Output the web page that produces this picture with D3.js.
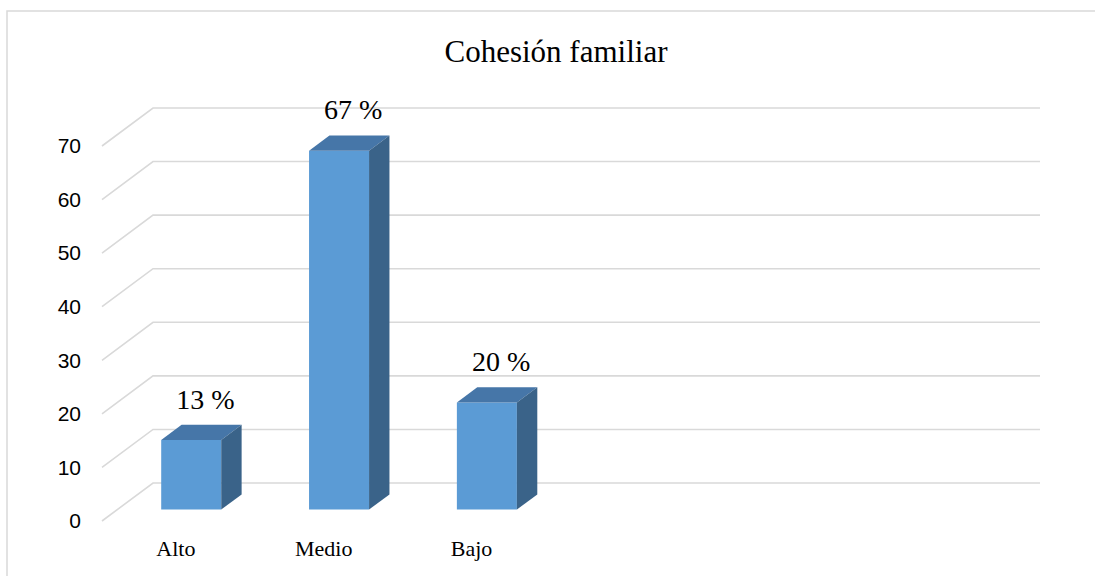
<!DOCTYPE html>
<html>
<head>
<meta charset="utf-8">
<script src="https://cdn.jsdelivr.net/npm/d3@7"></script>
<style>
  body { margin: 0; background: #fff; }
  svg { display: block; }
</style>
</head>
<body>
<div id="chart"></div>
<script>
var categories = ["Alto", "Medio", "Bajo", "", " ", "  "];
var values = [13, 67, 20];
var valueLabels = ["13 %", "67 %", "20 %"];
var yTicks = [0, 10, 20, 30, 40, 50, 60, 70];
var title = "Cohesión familiar";

var width = 1095, height = 576;

// front plane of the floor and oblique depth offset
var left = 102, plotW = 887;
var floorFront = 521;
var depthX = 51, depthY = -38;

var svg = d3.select("#chart").append("svg")
	.attr("width", width)
	.attr("height", height);

// chart border
svg.append("rect")
	.attr("x", 7).attr("y", 11)
	.attr("width", 1200).attr("height", 700)
	.attr("fill", "none")
	.attr("stroke", "#d9d9d9")
	.attr("stroke-width", 1.5);

var x = d3.scaleBand()
	.domain(categories)
	.range([left, left + plotW]);

// height above the floor at the back wall
var y = d3.scaleLinear()
	.domain([0, 70])
	.range([0, 375]);

// point at front-plane (px, value) pushed back by depth d (0..1)
function pt(px, v, d) {
	return [px + d * depthX, floorFront - y(v) + d * depthY];
}

// gridlines: diagonal side wall + back wall
var grid = svg.append("g").attr("class", "grid")
	.attr("stroke", "#d9d9d9")
	.attr("stroke-width", 1.6)
	.attr("fill", "none");

grid.selectAll("path")
	.data(yTicks)
	.enter().append("path")
	.attr("d", function(t) {
		var a = pt(left, t, 0), b = pt(left, t, 1), c = pt(left + plotW, t, 1);
		return "M" + a + "L" + b + "L" + c;
	});

// y tick labels
svg.append("g")
	.selectAll("text")
	.data(yTicks)
	.enter().append("text")
	.attr("x", 81)
	.attr("y", function(t) { return pt(left, t, 0)[1]; })
	.attr("dy", "0.35em")
	.attr("text-anchor", "end")
	.style("font-family", "'Liberation Sans', Arial, sans-serif")
	.style("font-size", "21px")
	.style("fill", "#000")
	.text(function(t) { return t; });

// bars
var barW = x.bandwidth() * 0.406;
var d1 = 0.3, d2 = 0.7;

var bars = svg.append("g").selectAll("g")
	.data(values)
	.enter().append("g");

function x0(i) { return x(categories[i]) + (x.bandwidth() - barW) / 2; }

bars.append("path")
	.attr("fill", "#5b9bd5")
	.attr("d", function(v, i) {
		var a = pt(x0(i), 0, d1), b = pt(x0(i) + barW, 0, d1),
		    c = pt(x0(i) + barW, v, d1), e = pt(x0(i), v, d1);
		return "M" + a + "L" + b + "L" + c + "L" + e + "Z";
	});

bars.append("path")
	.attr("fill", "#4676a8")
	.attr("d", function(v, i) {
		var a = pt(x0(i), v, d1), b = pt(x0(i) + barW, v, d1),
		    c = pt(x0(i) + barW, v, d2), e = pt(x0(i), v, d2);
		return "M" + a + "L" + b + "L" + c + "L" + e + "Z";
	});

bars.append("path")
	.attr("fill", "#3a6389")
	.attr("d", function(v, i) {
		var a = pt(x0(i) + barW, 0, d1), b = pt(x0(i) + barW, v, d1),
		    c = pt(x0(i) + barW, v, d2), e = pt(x0(i) + barW, 0, d2);
		return "M" + a + "L" + b + "L" + c + "L" + e + "Z";
	});

// value labels
bars.append("text")
	.attr("x", function(v, i) { return pt(x0(i) + barW / 2, v, 0.5)[0] + 4; })
	.attr("y", function(v, i) { return pt(x0(i), v, d2)[1] - 16; })
	.attr("text-anchor", "middle")
	.style("font-family", "'Liberation Serif', 'Times New Roman', serif")
	.style("font-size", "28px")
	.style("fill", "#000")
	.text(function(v, i) { return valueLabels[i]; });

// category labels
svg.append("g")
	.selectAll("text")
	.data(categories.slice(0, values.length))
	.enter().append("text")
	.attr("x", function(c) { return x(c) + x.bandwidth() / 2; })
	.attr("y", 556)
	.attr("text-anchor", "middle")
	.style("font-family", "'Liberation Serif', 'Times New Roman', serif")
	.style("font-size", "22px")
	.style("fill", "#000")
	.text(function(c) { return c; });

// title
svg.append("text")
	.attr("x", 556)
	.attr("y", 62)
	.attr("text-anchor", "middle")
	.style("font-family", "'Liberation Serif', 'Times New Roman', serif")
	.style("font-size", "31px")
	.style("fill", "#000")
	.text(title);
</script>
</body>
</html>
